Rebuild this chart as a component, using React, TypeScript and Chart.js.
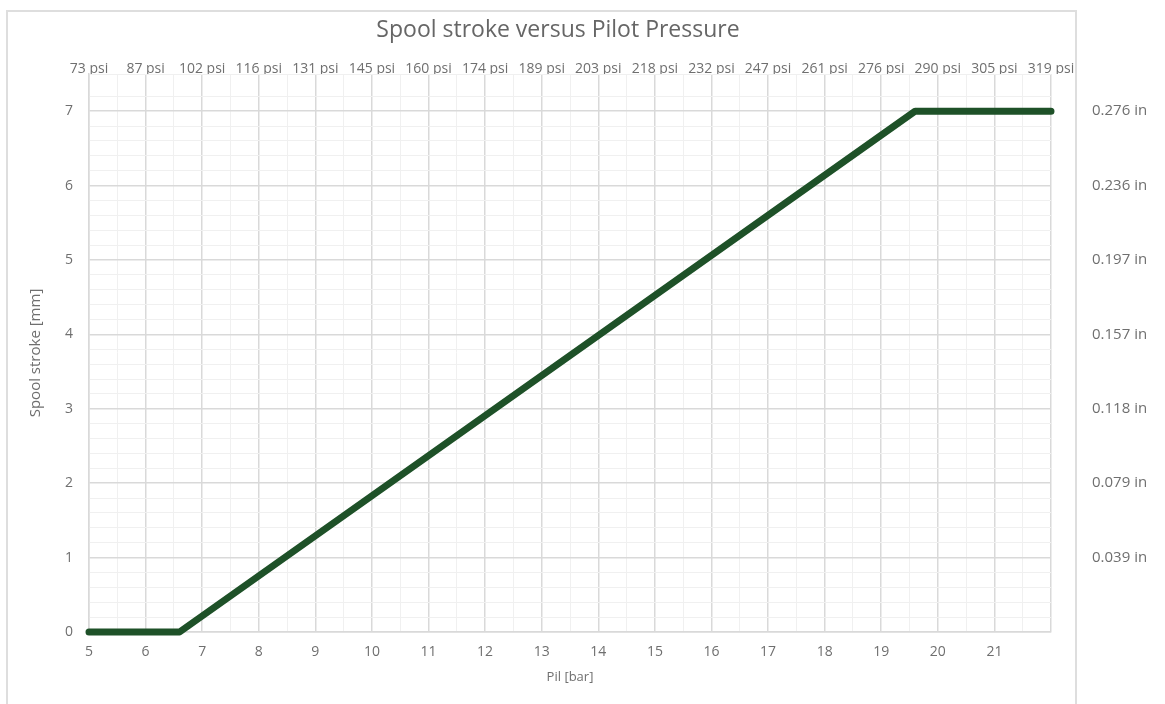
import React, { useEffect, useRef } from "react";
import { Chart, registerables } from "chart.js";

Chart.register(...registerables);

const pressureBar = [5, 6.6, 19.6, 22];
const strokeMm = [0, 0, 7, 7];
const barTickLabels = ["5", "6", "7", "8", "9", "10", "11", "12", "13", "14", "15", "16", "17", "18", "19", "20", "21", ""];
const psiTickLabels = ["73 psi", "87 psi", "102 psi", "116 psi", "131 psi", "145 psi", "160 psi", "174 psi", "189 psi", "203 psi", "218 psi", "232 psi", "247 psi", "261 psi", "276 psi", "290 psi", "305 psi", "319 psi"];
const inchTickLabels = ["", "0.039 in", "0.079 in", "0.118 in", "0.157 in", "0.197 in", "0.236 in", "0.276 in"];
const chartTitle = "Spool stroke versus Pilot Pressure";

const FONT = "'Open Sans', 'Noto Sans', sans-serif";
const TEXT = "#6f6f6f";
const MAJOR = "#d9d9d9";
const MINOR = "#f0f0f0";

const isInt = (v: number) => Math.abs(v - Math.round(v)) < 1e-6;

export default function App() {
  const ref = useRef<HTMLCanvasElement | null>(null);
  useEffect(() => {
    if (!ref.current) return;
    const chart = new Chart(ref.current, {
      type: "line",
      data: {
        datasets: [
          {
            data: pressureBar.map((x, i) => ({ x, y: strokeMm[i] })),
            borderColor: "#1e5128",
            borderWidth: 7,
            borderCapStyle: "round",
            borderJoinStyle: "round",
            pointRadius: 0,
            fill: false,
            tension: 0,
            clip: false,
          },
        ],
      },
      options: {
        animation: false,
        responsive: false,
        maintainAspectRatio: false,
        layout: { padding: { top: 52, left: 0, right: 0, bottom: 0 } },
        plugins: {
          legend: { display: false },
          tooltip: { enabled: false },
          title: { display: false },
        },
        scales: {
          x: {
            type: "linear",
            position: "bottom",
            min: 5,
            max: 22,
            afterFit: (s: any) => { s.height = 72; },
            ticks: {
              stepSize: 0.5,
              autoSkip: false,
              maxRotation: 0,
              padding: 12,
              color: TEXT,
              font: { family: FONT, size: 14 },
              callback: (v: any) => (isInt(v) ? barTickLabels[Math.round(v) - 5] ?? "" : ""),
            },
            grid: {
              drawTicks: false,
              color: (c: any) => (isInt(c.tick?.value ?? 0) ? MAJOR : MINOR),
              lineWidth: (c: any) => (isInt(c.tick?.value ?? 0) ? 1.5 : 1),
            },
            border: { color: MAJOR, width: 1.5 },
            title: {
              display: true,
              text: "Pil [bar]",
              color: TEXT,
              font: { family: FONT, size: 13 },
              padding: { top: 0, bottom: 19 },
            },
          },
          x2: {
            type: "linear",
            position: "top",
            min: 5,
            max: 22,
            afterFit: (s: any) => { s.height = 22; },
            ticks: {
              stepSize: 1,
              autoSkip: false,
              maxRotation: 0,
              padding: -3,
              color: TEXT,
              font: { family: FONT, size: 14 },
              callback: (v: any) => psiTickLabels[Math.round(v) - 5] ?? "",
            },
            grid: { display: false, drawTicks: false },
            border: { display: false },
          },
          y: {
            type: "linear",
            position: "left",
            min: 0,
            max: 7.5,
            afterFit: (s: any) => { s.width = 89; },
            ticks: {
              stepSize: 0.2,
              autoSkip: false,
              padding: 16,
              color: TEXT,
              font: { family: FONT, size: 14 },
              callback: (v: any) => (isInt(v) ? String(Math.round(v)) : ""),
            },
            grid: {
              drawTicks: false,
              color: (c: any) => (isInt(c.tick?.value ?? 0) ? MAJOR : MINOR),
              lineWidth: (c: any) => (isInt(c.tick?.value ?? 0) ? 1.5 : 1),
            },
            border: { color: MAJOR, width: 1.5 },
            title: {
              display: true,
              text: "Spool stroke [mm]",
              color: TEXT,
              font: { family: FONT, size: 15 },
              padding: { top: 27, bottom: 0 },
            },
          },
          y2: {
            type: "linear",
            position: "right",
            min: 0,
            max: 7.5,
            afterFit: (s: any) => { s.width = 114; },
            ticks: {
              stepSize: 1,
              autoSkip: false,
              padding: 41,
              color: TEXT,
              font: { family: FONT, size: 15 },
              callback: (v: any) => inchTickLabels[Math.round(v)] ?? "",
            },
            grid: { display: false, drawTicks: false },
            border: { display: false },
          },
        },
      } as any,
    });
    return () => chart.destroy();
  }, []);

  return (
    <div style={{ position: "absolute", left: 0, top: 0, width: 1165, height: 704, background: "#ffffff", overflow: "hidden" }}>
      <div
        style={{
          position: "absolute",
          left: 6,
          top: 10,
          width: 1071,
          height: 720,
          border: "2px solid #dedede",
          boxSizing: "border-box",
        }}
      />
      <canvas ref={ref} width={1165} height={704} style={{ position: "absolute", left: 0, top: 0, width: 1165, height: 704 }} />
      <div
        style={{
          position: "absolute",
          left: 0,
          top: 14,
          width: 1116,
          textAlign: "center",
          fontFamily: FONT,
          fontSize: 23,
          lineHeight: "28px",
          color: "#666666",
          whiteSpace: "nowrap",
        }}
      >
        {chartTitle}
      </div>
    </div>
  );
}
